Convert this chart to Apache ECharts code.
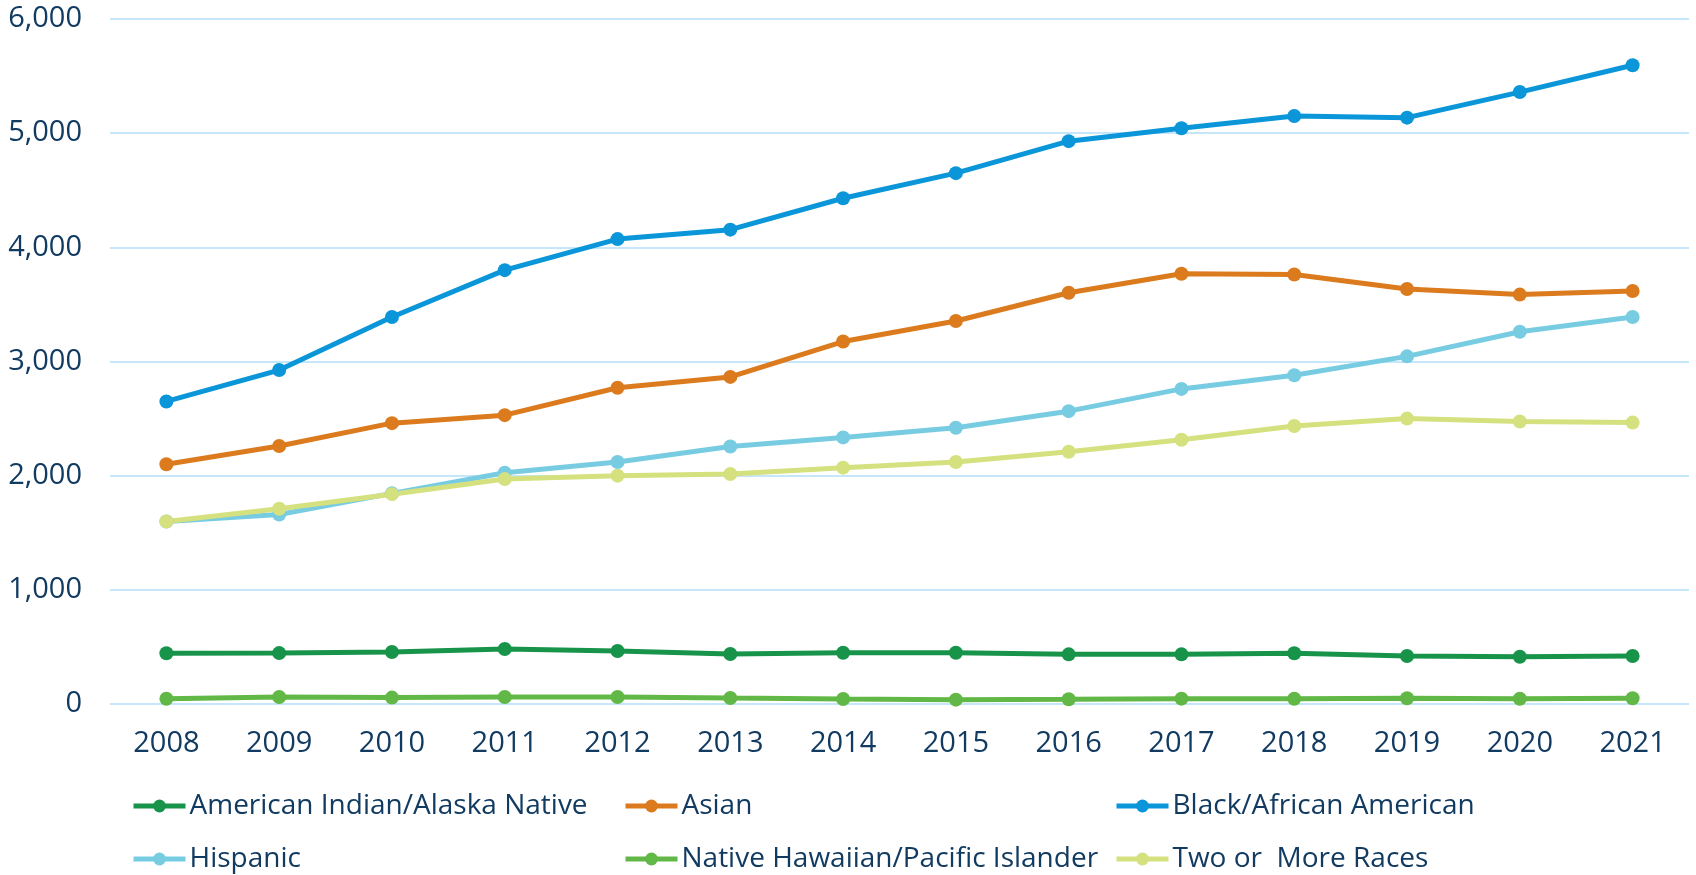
<!DOCTYPE html>
<html>
<head>
<meta charset="utf-8">
<script src="https://cdn.jsdelivr.net/npm/echarts@6/dist/echarts.min.js"></script>
<style>html,body{margin:0;padding:0;background:#fff}#c{width:1696px;height:875px}</style>
</head>
<body>
<div id="c"></div>
<script>
const years = ['2008','2009','2010','2011','2012','2013','2014','2015','2016','2017','2018','2019','2020','2021'];
const americanIndian = [445, 446, 455, 482, 464, 438, 449, 449, 435, 435, 444, 420, 414, 420];
const asian = [2100, 2260, 2460, 2530, 2770, 2865, 3175, 3355, 3602, 3768, 3762, 3635, 3586, 3618];
const black = [2650, 2925, 3390, 3800, 4072, 4155, 4430, 4650, 4930, 5043, 5150, 5136, 5360, 5595];
const hispanic = [1598, 1660, 1845, 2025, 2120, 2255, 2335, 2420, 2565, 2760, 2880, 3045, 3260, 3390];
const nativeHawaiian = [46, 61, 56, 61, 61, 52, 44, 38, 41, 47, 46, 50, 46, 50];
const twoOrMore = [1598, 1710, 1838, 1970, 2000, 2015, 2070, 2120, 2210, 2314, 2435, 2500, 2475, 2465];
const yTicks = {min: 0, max: 6000, interval: 1000};

const seriesDefs = [
  {name: 'American Indian/Alaska Native', data: americanIndian, color: '#17944a'},
  {name: 'Asian', data: asian, color: '#db7b1e'},
  {name: 'Black/African American', data: black, color: '#0a96d8'},
  {name: 'Hispanic', data: hispanic, color: '#78cce2'},
  {name: 'Native Hawaiian/Pacific Islander', data: nativeHawaiian, color: '#62b846'},
  {name: 'Two or  More Races', data: twoOrMore, color: '#d4e17e'}
];

const FONT = '"Open Sans", "Noto Sans", sans-serif';
const TXT = '#123b61';
const legendPos = [
  {left: 131, top: 792}, {left: 623, top: 792}, {left: 1114, top: 792},
  {left: 131, top: 845}, {left: 623, top: 845}, {left: 1114, top: 845}
];

const chart = echarts.init(document.getElementById('c'), null, {renderer: 'canvas'});
chart.setOption({
  animation: false,
  backgroundColor: '#ffffff',
  grid: {left: 110, right: 7, top: 19, bottom: 171, containLabel: false},
  legend: seriesDefs.map((s, i) => ({
    data: [s.name],
    left: legendPos[i].left,
    top: legendPos[i].top,
    padding: 0,
    itemWidth: 52,
    itemHeight: 16,
    itemGap: 6,
    lineStyle: {width: 5},
    textStyle: {fontFamily: FONT, fontSize: 28, color: TXT, padding: [0, 0, 0, -1]}
  })),
  xAxis: {
    type: 'category',
    data: years,
    boundaryGap: true,
    axisLine: {show: false},
    axisTick: {show: false},
    axisLabel: {fontFamily: FONT, fontSize: 29, color: TXT, margin: 25}
  },
  yAxis: {
    type: 'value',
    min: yTicks.min,
    max: yTicks.max,
    interval: yTicks.interval,
    axisLine: {show: false},
    axisTick: {show: false},
    splitLine: {lineStyle: {color: '#c6e6fa', width: 2}},
    axisLabel: {
      fontFamily: FONT, fontSize: 29, color: TXT, margin: 28,
      formatter: v => v.toLocaleString('en-US')
    }
  },
  series: seriesDefs.map(s => ({
    name: s.name,
    type: 'line',
    data: s.data,
    symbol: 'circle',
    symbolSize: 14,
    lineStyle: {width: 5, color: s.color},
    itemStyle: {color: s.color},
    emphasis: {disabled: true}
  }))
});
</script>
</body>
</html>
